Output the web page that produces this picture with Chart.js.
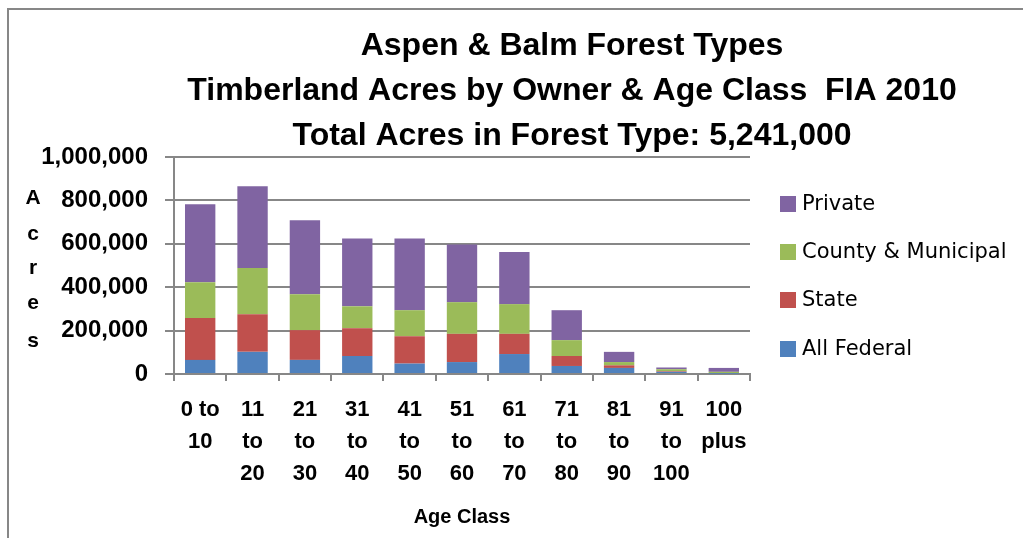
<!DOCTYPE html>
<html>
<head>
<meta charset="utf-8">
<script src="https://cdn.jsdelivr.net/npm/chart.js@4"></script>
<style>
html,body{margin:0;padding:0;background:#fff;}
#wrap{width:1023px;height:538px;position:relative;}
</style>
</head>
<body>
<div id="wrap"><canvas id="c" width="1023" height="538"></canvas></div>
<script>
const categories = [["0 to","10"],["11","to","20"],["21","to","30"],["31","to","40"],["41","to","50"],["51","to","60"],["61","to","70"],["71","to","80"],["81","to","90"],["91","to","100"],["100","plus"]];
const federal = [65000,102000,65000,83000,48000,55000,92000,37000,28000,10000,1000];
const state = [193000,173000,137000,128000,126000,130000,93000,46000,12000,3000,1000];
const county = [165000,213000,166000,101000,120000,146000,137000,73000,15000,9000,8000];
const privateOwn = [359000,377000,340000,313000,331000,266000,240000,138000,47000,8000,18000];
const titleLines = ["Aspen & Balm Forest Types","Timberland Acres by Owner & Age Class  FIA 2010","Total Acres in Forest Type: 5,241,000"];
const yTitleLetters = ["A","c","r","e","s"];
const xTitle = "Age Class";

const BOLD = "'Liberation Sans', Arial, sans-serif";
const REG = "'DejaVu Sans', sans-serif";

const decor = {
  id:'decor',
  afterDraw(chart){
    const ctx = chart.ctx;
    ctx.save();
    // frame
    ctx.strokeStyle = '#878787';
    ctx.lineWidth = 2;
    ctx.beginPath();
    ctx.moveTo(8, 540); ctx.lineTo(8, 9); ctx.lineTo(1025, 9);
    ctx.stroke();
    // title
    ctx.fillStyle = '#000';
    ctx.textAlign = 'center';
    ctx.textBaseline = 'middle';
    ctx.font = "bold 32px " + BOLD;
    titleLines.forEach((t,i)=>ctx.fillText(t, 572, 46 + i*45));
    // y title
    ctx.font = "bold 21px " + BOLD;
    const ys = [198,234,268,303,341];
    yTitleLetters.forEach((t,i)=>ctx.fillText(t, 33, ys[i]));
    // legend (top to bottom reversed order)
    const ds = chart.data.datasets;
    ctx.textAlign = 'left';
    ctx.font = "21px " + REG;
    const ly = [204,252,300,349];
    for(let i=0;i<ds.length;i++){
      const d = ds[ds.length-1-i];
      ctx.fillStyle = d.backgroundColor;
      ctx.fillRect(780, ly[i]-8, 16, 16);
      ctx.fillStyle = '#000';
      ctx.fillText(d.label, 802, ly[i]+1);
    }
    ctx.restore();
  }
};

new Chart(document.getElementById('c'), {
  type:'bar',
  data:{
    labels: categories,
    datasets:[
      {label:'All Federal', data:federal, backgroundColor:'#4F81BD'},
      {label:'State', data:state, backgroundColor:'#C0504D'},
      {label:'County & Municipal', data:county, backgroundColor:'#9BBB59'},
      {label:'Private', data:privateOwn, backgroundColor:'#8064A2'}
    ]
  },
  options:{
    responsive:false,
    animation:false,
    devicePixelRatio:1,
    layout:{padding:{top:157,left:0,right:273,bottom:0}},
    datasets:{bar:{categoryPercentage:1, barPercentage:0.58}},
    plugins:{legend:{display:false}, title:{display:false}, tooltip:{enabled:false}},
    scales:{
      x:{
        stacked:true,
        grid:{drawOnChartArea:false, drawTicks:true, tickLength:7, color:'#878787', lineWidth:2},
        border:{display:true, color:'#878787', width:2},
        ticks:{color:'#000', font:{family:BOLD, size:22, weight:'bold', lineHeight:1.45}, padding:13, maxRotation:0, autoSkip:false},
        title:{display:true, text:xTitle, color:'#000', font:{family:BOLD, size:20, weight:'bold'}, padding:{top:0,bottom:9}},
        afterFit(s){ s.height = 164; }
      },
      y:{
        stacked:true,
        min:0, max:1000000,
        grid:{color:'#878787', lineWidth:2, tickLength:9},
        border:{display:true, color:'#878787', width:2},
        ticks:{stepSize:200000, color:'#000', font:{family:BOLD, size:24, weight:'bold'}, padding:17,
          callback:(v)=>Number(v).toLocaleString('en-US')},
        afterFit(s){ s.width = 174; }
      }
    }
  },
  plugins:[decor]
});
</script>
</body>
</html>
